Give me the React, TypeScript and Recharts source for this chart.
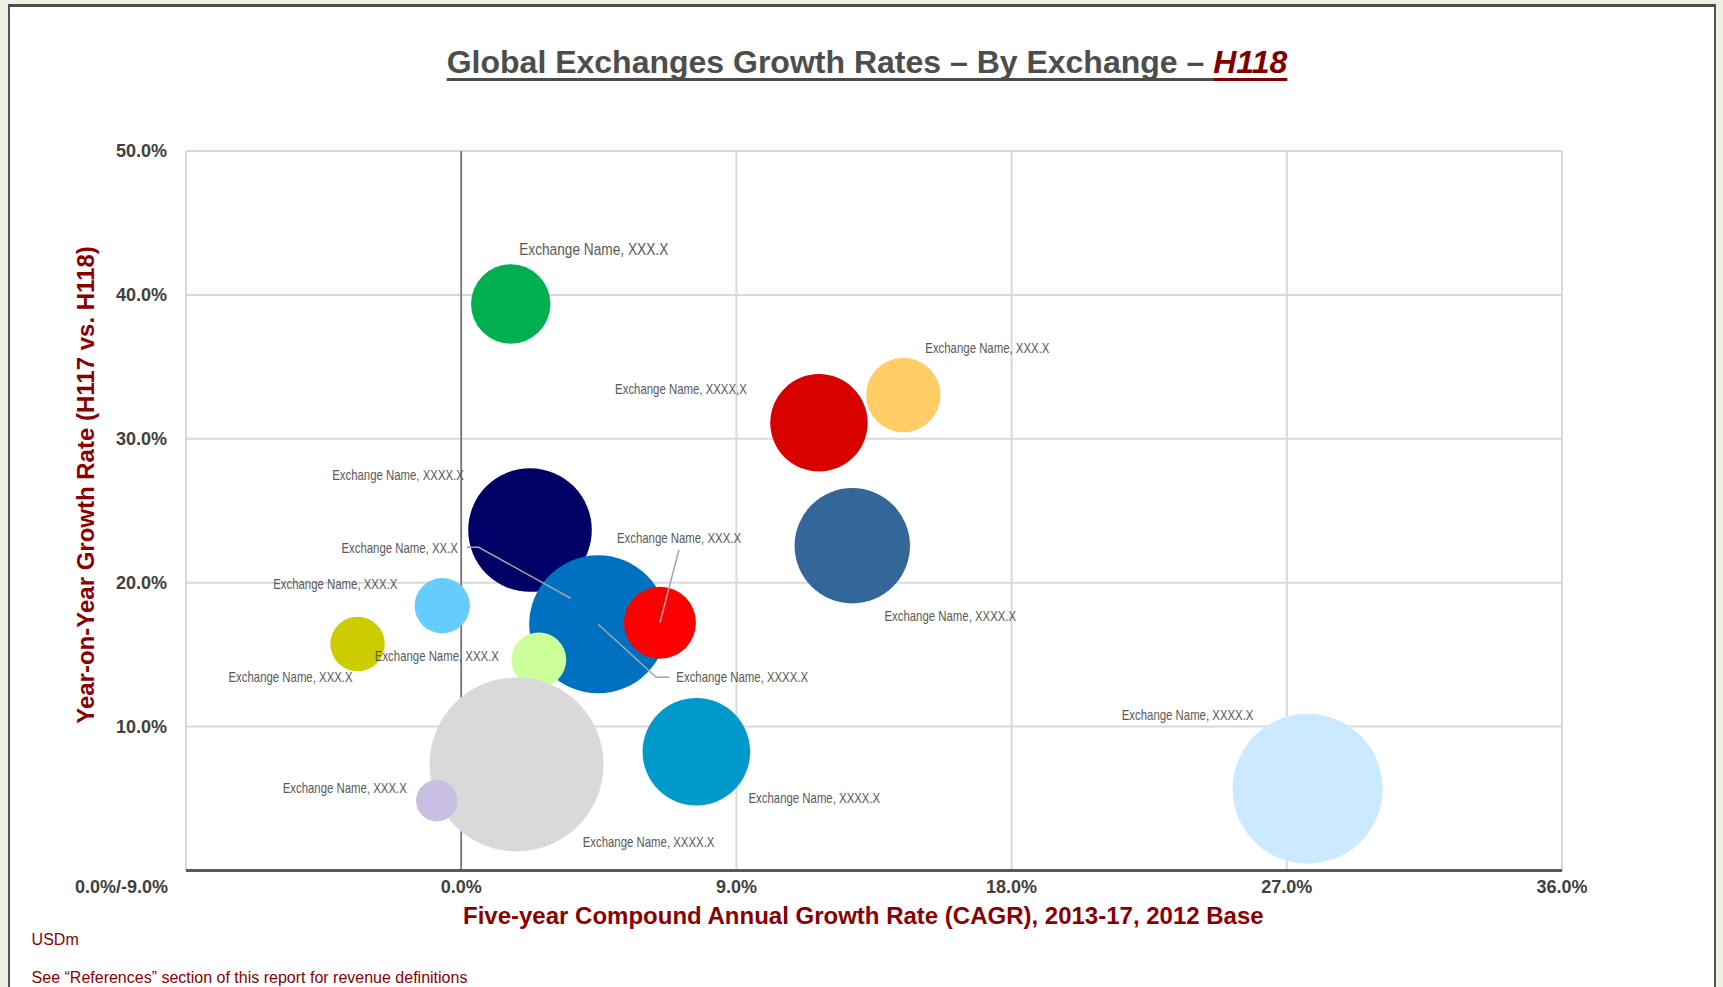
import React from "react";
import {
  ScatterChart,
  Scatter,
  XAxis,
  YAxis,
  ZAxis,
  CartesianGrid,
  ReferenceLine,
  Cell,
} from "recharts";

const exchangeLabels = [
  "Exchange Name, XXX.X",
  "Exchange Name, XXXX,X",
  "Exchange Name, XXX.X",
  "Exchange Name, XXXX.X",
  "Exchange Name, XXXX.X",
  "Exchange Name, XX.X",
  "Exchange Name, XXXX.X",
  "Exchange Name, XXX.X",
  "Exchange Name, XXX.X",
  "Exchange Name, XXX.X",
  "Exchange Name, XXX.X",
  "Exchange Name, XXXX.X",
  "Exchange Name, XXXX.X",
  "Exchange Name, XXX.X",
  "Exchange Name, XXXX.X",
];
// five-year CAGR, %
const cagrPct = [1.62, 11.7, 14.46, 2.25, 12.79, 3.58, 4.48, 6.5, -0.62, -3.39, 2.54, 1.81, 7.69, -0.8, 27.68];
// year-on-year growth H117 vs H118, %
const yoyPct = [39.37, 31.11, 33.04, 23.66, 22.57, 18.92, 17.11, 17.22, 18.4, 15.74, 14.64, 7.37, 8.25, 4.85, 5.68];
// revenue, USDm (bubble size)
const revenueUsdM = [664, 1000, 583, 1610, 1404, 85, 2007, 546, 323, 312, 316, 3191, 1220, 181, 2372];
const bubbleColors = [
  "#00b050", "#d90000", "#ffcc66", "#000066", "#336699",
  "#9b7583", "#0070c0", "#ff0000", "#66ccff", "#cccc00",
  "#ccff99", "#d9d9d9", "#0099cc", "#c9bfe2", "#cceaff",
];
const xTicks = [-9, 0, 9, 18, 27, 36];
const yTicks = [10, 20, 30, 40, 50];

// where each data label sits relative to its bubble centre (px), with optional leader line
const labelLayout: { dx: number; dy: number; big?: boolean; leader?: number[][] }[] = [
  { dx: 83, dy: -55, big: true },
  { dx: -138, dy: -34 },
  { dx: 84, dy: -47 },
  { dx: -132, dy: -55 },
  { dx: 98, dy: 70 },
  { dx: -171, dy: -50, leader: [[-104, -51], [-92, -51], [0, 0]] },
  { dx: 144, dy: 53, leader: [[0, 0], [58, 53], [71, 53]] },
  { dx: 19, dy: -85, leader: [[19, -73], [0, 0]] },
  { dx: -107, dy: -22 },
  { dx: -67, dy: 33 },
  { dx: -102, dy: -4 },
  { dx: 132, dy: 78 },
  { dx: 118, dy: 46 },
  { dx: -92, dy: -13 },
  { dx: -120, dy: -74 },
];

const data = exchangeLabels.map((label, i) => ({
  label,
  idx: i,
  x: cagrPct[i],
  y: yoyPct[i],
  z: revenueUsdM[i],
}));

const FONT = "'Liberation Sans', Arial, sans-serif";
const DARK_RED = "#8a0000";
const pct = (v: number) => `${v.toFixed(1)}%`;

const XTick = (props: any) => {
  const { x, y, payload } = props;
  const first = payload.value === xTicks[0];
  return (
    <text
      x={first ? x - 18 : x}
      y={y}
      dy="0.71em"
      textAnchor={first ? "end" : "middle"}
      fontSize={18}
      fontWeight={700}
      fill="#404040"
      fontFamily={FONT}
    >
      {first ? `${pct(0)}/${pct(payload.value)}` : pct(payload.value)}
    </text>
  );
};

const BubbleLabel = (props: any) => {
  const { cx, cy, payload } = props;
  const l = labelLayout[payload.idx];
  return (
    <g>
      {l.leader && (
        <polyline
          points={l.leader.map(([a, b]) => `${cx + a},${cy + b}`).join(" ")}
          fill="none"
          stroke="#a6a6a6"
          strokeWidth={1.5}
        />
      )}
      <text
        transform={`translate(${cx + l.dx},${cy + l.dy}) scale(0.82,1)`}
        textAnchor="middle"
        dominantBaseline="central"
        fontSize={l.big ? 16.7 : 13.9}
        fill="#595959"
        fontFamily={FONT}
      >
        {payload.label}
      </text>
    </g>
  );
};

const underline: React.CSSProperties = {
  textDecoration: "underline",
  textDecorationThickness: "3px",
  textUnderlineOffset: "5px",
  textDecorationSkipInk: "none",
};

export default function App() {
  return (
    <div style={{ position: "absolute", left: 0, top: 0, width: 1723, height: 987, overflow: "hidden", background: "#f1efe4", fontFamily: FONT }}>
      <div
        style={{
          position: "absolute",
          left: 8,
          top: 4,
          width: 1704,
          height: 1000,
          background: "#fff",
          borderTop: "3px solid #4d4d4d",
          borderLeft: "2px solid #555",
          borderRight: "2px solid #555",
        }}
      />
      <div
        style={{
          position: "absolute",
          left: 867,
          top: 45.6,
          transform: "translateX(-50%)",
          whiteSpace: "nowrap",
          fontSize: 32,
          lineHeight: "32px",
          fontWeight: 700,
          color: "#4d4d4d",
        }}
      >
        <span style={underline}>Global Exchanges Growth Rates – By Exchange – </span>
        <span style={{ ...underline, color: "#800000", fontStyle: "italic" }}>H118</span>
      </div>

      <div style={{ position: "absolute", left: 0, top: 0 }}>
        <ScatterChart width={1723} height={987} margin={{ top: 151, right: 161, bottom: 86.5, left: 126 }}>
          <CartesianGrid stroke="#d9d9d9" strokeWidth={2} />
          <XAxis
            type="number"
            dataKey="x"
            domain={[-9, 36]}
            ticks={xTicks}
            interval={0}
            tick={<XTick />}
            tickLine={false}
            axisLine={{ stroke: "#595959", strokeWidth: 3 }}
            height={30}
            tickMargin={4}
            allowDataOverflow
          />
          <YAxis
            type="number"
            dataKey="y"
            domain={[0, 50]}
            ticks={yTicks}
            interval={0}
            tickFormatter={pct}
            tick={{ fontSize: 18, fontWeight: 700, fill: "#404040", fontFamily: FONT }}
            tickLine={false}
            axisLine={false}
            width={60}
            tickMargin={13}
            allowDataOverflow
          />
          <ZAxis type="number" dataKey="z" domain={[0, 3200]} range={[0, 23846]} />
          <ReferenceLine x={0} stroke="#6b6b6b" strokeWidth={1.5} />
          <Scatter data={data} isAnimationActive={false}>
            {data.map((d) => (
              <Cell key={d.idx} fill={bubbleColors[d.idx]} />
            ))}
          </Scatter>
          <Scatter data={data} shape={BubbleLabel} isAnimationActive={false} />
        </ScatterChart>
      </div>

      <div
        style={{
          position: "absolute",
          left: 85.5,
          top: 484.5,
          transform: "translate(-50%, -50%) rotate(-90deg)",
          whiteSpace: "nowrap",
          fontSize: 24,
          lineHeight: "24px",
          fontWeight: 700,
          color: DARK_RED,
        }}
      >
        Year-on-Year Growth Rate (H117 vs. H118)
      </div>
      <div style={{ position: "absolute", left: 463, top: 904, whiteSpace: "nowrap", fontSize: 24, lineHeight: "24px", fontWeight: 700, color: DARK_RED }}>
        Five-year Compound Annual Growth Rate (CAGR), 2013-17, 2012 Base
      </div>
      <div style={{ position: "absolute", left: 31.6, top: 931.5, fontSize: 16, lineHeight: "16px", color: DARK_RED }}>USDm</div>
      <div style={{ position: "absolute", left: 31.6, top: 969.8, whiteSpace: "nowrap", fontSize: 16, lineHeight: "16px", color: DARK_RED }}>
        See “References” section of this report for revenue definitions
      </div>
    </div>
  );
}
